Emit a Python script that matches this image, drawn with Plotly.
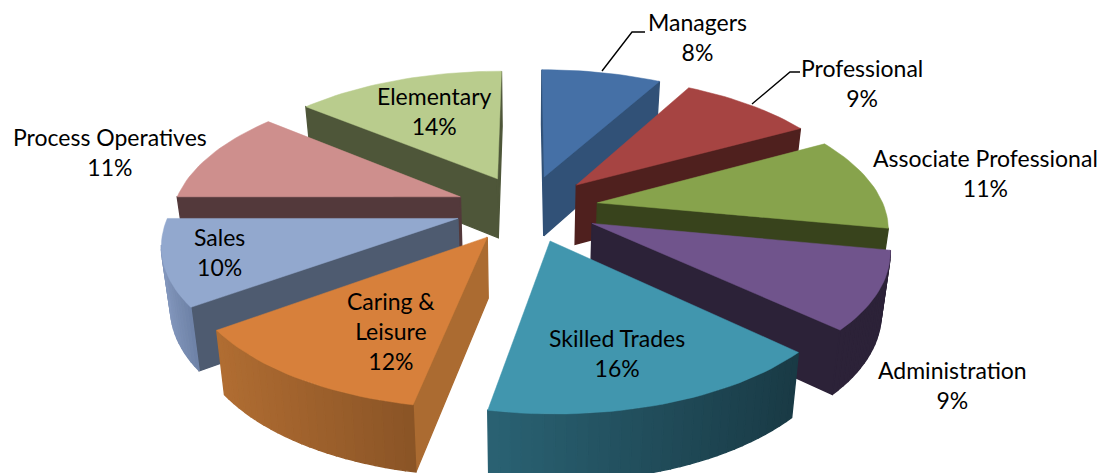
import math
import plotly.graph_objects as go

categories = ["Managers", "Professional", "Associate Professional", "Administration",
              "Skilled Trades", "Caring & Leisure", "Sales", "Process Operatives", "Elementary"]
values = [8, 9, 11, 9, 16, 12, 10, 11, 14]
top_colors = ["#4570A6", "#A64442", "#87A34C", "#70548C", "#4196AE", "#D7803B", "#92A8CE", "#CE8F8D", "#B9CC8D"]
cut_colors = ["#315177", "#4F201E", "#38431C", "#2C2238", "#1B3D48", "#AB6B31", "#4E5B70", "#53393B", "#4E5639"]
wall_left = ["#4570A6", "#6E2D2B", "#55692E", "#2C2238", "#2A6273", "#B06D32", "#8296BC", "#8A5C5B", "#7A8A5A"]
wall_right = ["#315177", "#4F201E", "#38431C", "#2C2238", "#193A45", "#8A5426", "#6E82A6", "#53393B", "#4E5639"]
label_text = ["Managers", "Professional", "Associate Professional", "Administration",
              "Skilled Trades", "Caring &<br>Leisure", "Sales", "Process Operatives", "Elementary"]
label_pos = [(697, 37), (862, 83), (985, 173), (952, 385), (617, 353), (391, 331), (219, 252), (110, 152), (434, 111)]
draw_order = [8, 0, 1, 7, 2, 6, 3, 5, 4]
leaders = [([602, 632, 645], [71, 32, 32]), ([752, 790, 800], [104, 72, 72])]

CX, CY, S, K, P, EXPL = 527, 208, 287, 0.465, 0.16, 0.25


def project(X, Y):
    s = 1 / (1 + P * Y)
    return CX + X * S * s, CY - K * Y * S * s, s


def below(X, Y):
    x, y, s = project(X, Y)
    return x + (CX - x) * 0.025, y + 60 * (1 + 0.5 * (s - 1))


def mix(c1, c2, t):
    a = [int(c1[i:i + 2], 16) for i in (1, 3, 5)]
    b = [int(c2[i:i + 2], 16) for i in (1, 3, 5)]
    return "#%02x%02x%02x" % tuple(round(a[i] + (b[i] - a[i]) * t) for i in range(3))


fig = go.Figure()


def poly(xs, ys, color, width=0.5):
    fig.add_trace(go.Scatter(x=xs, y=ys, mode="lines", fill="toself", fillcolor=color,
                             line=dict(color=color, width=width), hoverinfo="skip", showlegend=False))


total = sum(values)
starts = [sum(values[:i]) / total * 2 * math.pi for i in range(len(values))]
for i in draw_order:
    a0 = starts[i]
    a1 = a0 + values[i] / total * 2 * math.pi
    mid = (a0 + a1) / 2
    ox, oy = EXPL * math.sin(mid), EXPL * math.cos(mid)
    n = max(6, int(values[i] * 2))
    arc = [(ox + math.sin(a0 + (a1 - a0) * j / n), oy + math.cos(a0 + (a1 - a0) * j / n)) for j in range(n + 1)]
    outline = [(ox, oy)] + arc + [(ox, oy)]
    arcx = [project(*p)[0] for p in arc]
    x_lo, x_hi = min(arcx), max(arcx)
    for j in range(len(outline) - 1):
        p, q = outline[j], outline[j + 1]
        px, py, _ = project(*p)
        qx, qy, _ = project(*q)
        if qx >= px:
            continue
        bpx, bpy = below(*p)
        bqx, bqy = below(*q)
        if j == 0 or j == len(outline) - 2:
            col = cut_colors[i]
        else:
            t = ((px + qx) / 2 - x_lo) / max(x_hi - x_lo, 1)
            col = mix(wall_left[i], wall_right[i], t)
        poly([px, qx, bqx, bpx, px], [py, qy, bqy, bpy, py], col, width=1.4)
    top = [project(*p)[:2] for p in outline]
    poly([t[0] for t in top], [t[1] for t in top], top_colors[i])

for lx, ly in leaders:
    fig.add_trace(go.Scatter(x=lx, y=ly, mode="lines", line=dict(color="black", width=1.4),
                             hoverinfo="skip", showlegend=False))

for i, (tx, ty) in enumerate(label_pos):
    fig.add_annotation(x=tx, y=ty, text=f"{label_text[i]}<br>{round(values[i] / total * 100)}%",
                       showarrow=False, font=dict(family="Lato", size=23, color="black"), align="center")

fig.update_layout(width=1100, height=473, margin=dict(l=0, r=0, t=0, b=0),
                  paper_bgcolor="white", plot_bgcolor="white",
                  xaxis=dict(range=[0, 1100], visible=False, fixedrange=True),
                  yaxis=dict(range=[473, 0], visible=False, fixedrange=True))
fig.write_html("out.html", config={"displayModeBar": False},
               post_script="document.body.style.margin='0';document.documentElement.style.overflow='hidden';")
